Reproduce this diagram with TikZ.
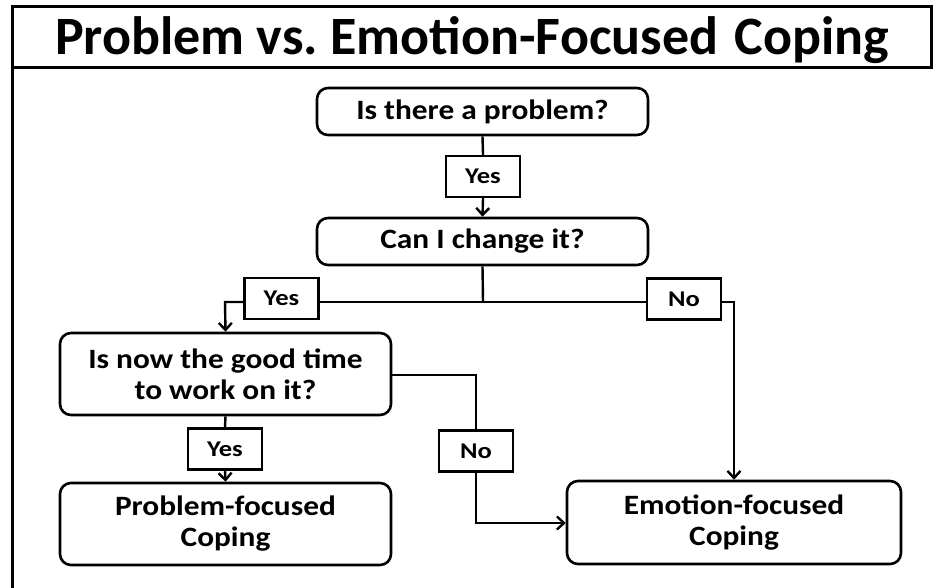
\documentclass[tikz,border=0pt]{standalone}
\usepackage{fontspec}
\setmainfont{Carlito}
\newfontfamily\boxfont[FakeStretch=1.12]{Carlito}
\newfontfamily\tagfont[FakeStretch=1.18]{Carlito}
\usetikzlibrary{arrows.meta}
\begin{document}
\begin{tikzpicture}[x=1pt,y=-1pt,
  every node/.style={font=\bfseries},
  question/.style={draw, line width=2.6pt, rounded corners=11pt, align=center,
    font=\boxfont\fontsize{28}{31}\selectfont\bfseries, inner sep=0pt},
  answer/.style={draw, line width=2.4pt, minimum width=74pt, minimum height=41pt,
    inner sep=0pt, font=\tagfont\fontsize{22.5}{26}\selectfont\bfseries},
  link/.style={line width=2.4pt},
  arrowlink/.style={link, -{Straight Barb[length=7pt,width=13pt,line width=2.4pt]}}
]
\useasboundingbox (0,0) rectangle (933,588);
% title panel and page frame
\draw[line width=3pt] (12,7) rectangle (931,68);
\draw[line width=3pt] (12,68) -- (12,600);
\node[font=\fontsize{54}{60}\selectfont\bfseries, anchor=base] (title) at (472,55)
  {Problem vs.\ Emotion-Focused\hspace{0.3em}Coping};

% decisions and outcomes
\node[question, minimum width=331pt, minimum height=47pt] (q1) at (482.5,111.5) {Is there a problem?};
\node[question, minimum width=331pt, minimum height=47pt] (q2) at (482.5,241.5) {Can I change it?};
\node[question, minimum width=331pt, minimum height=82pt] (q3) at (225.5,374) {Is now the good time\\to work on it?};
\node[question, minimum width=331pt, minimum height=82pt] (pf) at (225.5,524) {Problem-focused\\Coping};
\node[question, minimum width=334pt, minimum height=83pt] (ef) at (734,522.5) {Emotion-focused\\Coping};

% answer labels
\node[answer] (y1) at (483,176.5) {Yes};
\node[answer] (y2) at (281.5,298.5) {Yes};
\node[answer] (n1) at (684,299) {No};
\node[answer] (y3) at (225,449) {Yes};
\node[answer] (n2) at (476,451) {No};

% branch points
\coordinate (j1) at (483,302);
\coordinate (jl) at (225,302);
\coordinate (jr) at (734,302);
\coordinate (k1) at (476,375);
\coordinate (k2) at (476,523);

% connectors
\draw[link] (q1.south) -- (y1.north);
\draw[arrowlink] (y1.south) -- (q2.north);
\draw[link] (q2.south) -- (j1);
\draw[link] (j1) -- (y2.east |- j1);
\draw[arrowlink] (y2.west |- j1) -- (jl) -- (q3.north);
\draw[link] (j1) -- (n1.west |- j1);
\draw[arrowlink] (n1.east |- j1) -- (jr) -- (ef.north);
\draw[link] (q3.south) -- (y3.north);
\draw[arrowlink] (y3.south) -- (pf.north);
\draw[link] (q3.east |- k1) -- (k1) -- (n2.north);
\draw[arrowlink] (n2.south) -- (k2) -- (ef.west |- k2);
\end{tikzpicture}
\end{document}
